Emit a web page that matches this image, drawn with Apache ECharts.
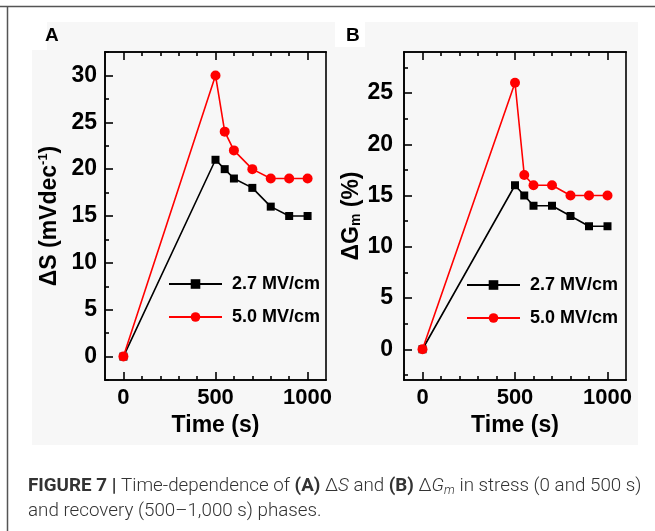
<!DOCTYPE html>
<html><head><meta charset="utf-8">
<script src="https://cdn.jsdelivr.net/npm/echarts@6/dist/echarts.min.js"></script>
<style>html,body{margin:0;padding:0;background:#fff}#c{width:655px;height:531px}</style>
</head><body><div id="c"></div>
<script>
// ---- data ----
const time = [0, 500, 550, 600, 700, 800, 900, 1000];
const dS_27 = [0, 21, 20, 19, 18, 16, 15, 15];
const dS_50 = [0, 30, 24, 22, 20, 19, 19, 19];
const dG_27 = [0, 16, 15, 14, 14, 13, 12, 12];
const dG_50 = [0, 26, 17, 16, 16, 15, 15, 15];
const seriesNames = ['2.7 MV/cm', '5.0 MV/cm'];
const xMajor = [0, 500, 1000];
const xMinor = [100, 200, 300, 400, 600, 700, 800, 900];
const yMajorA = [0, 5, 10, 15, 20, 25, 30];
const yMinorA = [-2.5, 2.5, 7.5, 12.5, 17.5, 22.5, 27.5, 32.5];
const yMajorB = [0, 5, 10, 15, 20, 25];
const yMinorB = [-2.5, 2.5, 7.5, 12.5, 17.5, 22.5, 27.5];

const FF = '"Liberation Sans", Arial, sans-serif';
const CF = 'Roboto, sans-serif';
const CS = 18.8;
const lineStyle = { color: '#000', width: 1.6 };
const plain = v => String(v);

function xAx(grid, pos, ticks, len, labels, name) {
  return {
    type: 'value', gridIndex: grid, position: pos, min: -100, max: 1100,
    splitLine: { show: false },
    axisLine: { show: true, onZero: false, lineStyle },
    axisTick: { show: true, inside: true, length: len, customValues: ticks, lineStyle },
    axisLabel: labels ? { show: true, customValues: ticks, formatter: plain, margin: 7, color: '#000', fontSize: 22, fontWeight: 'bold', fontFamily: FF } : { show: false },
    name: name || '', nameLocation: 'middle', nameGap: 33,
    nameTextStyle: { color: '#000', fontSize: 23, fontWeight: 'bold', fontFamily: FF }
  };
}
function yAx(grid, pos, min, max, ticks, len, labels, name, gap, margin) {
  return {
    type: 'value', gridIndex: grid, position: pos, min, max,
    splitLine: { show: false },
    axisLine: { show: true, onZero: false, lineStyle },
    axisTick: { show: ticks.length > 0, inside: true, length: len, customValues: ticks.length ? ticks : undefined, lineStyle },
    axisLabel: labels ? { show: true, customValues: ticks, formatter: plain, margin: margin, color: '#000', fontSize: 23, fontWeight: 'bold', fontFamily: FF } : { show: false },
    name: name || '', nameLocation: 'middle', nameGap: gap || 0, nameRotate: 90,
    nameTextStyle: {
      color: '#000', fontSize: 23, fontWeight: 'bold', fontFamily: FF,
      rich: {
        sup: { fontSize: 13, fontWeight: 'bold', fontFamily: FF, color: '#000', verticalAlign: 'top', padding: [0, 0, 12, 0] },
        sub: { fontSize: 14, fontWeight: 'bold', fontFamily: FF, color: '#000', padding: [10, 0, 0, 0] }
      }
    }
  };
}

const xAxes = [
  xAx(0, 'bottom', xMajor, 8, true, 'Time (s)'),
  xAx(0, 'bottom', xMinor, 4, false),
  xAx(0, 'top', xMajor, 8, false),
  xAx(0, 'top', xMinor, 4, false),
  xAx(1, 'bottom', xMajor, 8, true, 'Time (s)'),
  xAx(1, 'bottom', xMinor, 4, false),
  xAx(1, 'top', xMajor, 8, false),
  xAx(1, 'top', xMinor, 4, false)
];
const yAxes = [
  yAx(0, 'left', -2.5, 32.5, yMajorA, 8, true, 'ΔS (mVdec{sup|-1})', 43, 8),
  yAx(0, 'left', -2.5, 32.5, yMinorA, 4, false),
  yAx(0, 'right', -2.5, 32.5, [], 0, false),
  yAx(1, 'left', -3, 29, yMajorB, 8, true, 'ΔG{sub|m} (%)', 33, 11),
  yAx(1, 'left', -3, 29, yMinorB, 4, false),
  yAx(1, 'right', -3, 29, [], 0, false)
];

function pairs(xs, ys) { return xs.map((x, i) => [x, ys[i]]); }
function ser(name, data, xi, yi, color, symbol, size) {
  return {
    type: 'line', name, data, xAxisIndex: xi, yAxisIndex: yi,
    symbol, symbolSize: size, showAllSymbol: true,
    lineStyle: { color, width: 1.6 }, itemStyle: { color },
    animation: false
  };
}
const series = [
  ser(seriesNames[0], pairs(time, dS_27), 0, 0, '#000', 'rect', 8),
  ser(seriesNames[1], pairs(time, dS_50), 0, 0, '#ff0000', 'circle', 10),
  ser(seriesNames[0], pairs(time, dG_27), 4, 3, '#000', 'rect', 8),
  ser(seriesNames[1], pairs(time, dG_50), 4, 3, '#ff0000', 'circle', 10)
];

const legendBase = {
  orient: 'vertical', itemWidth: 53, itemHeight: 12, itemGap: 13,
  textStyle: { color: '#000', fontSize: 18, fontWeight: 'bold', fontFamily: FF, padding: [0, 0, 0, 5], lineHeight: 20 },
  selectedMode: false, data: seriesNames
};

const chart = echarts.init(document.getElementById('c'), null, { renderer: 'canvas' });
chart.setOption({
  animation: false,
  backgroundColor: '#fff',
  grid: [
    { left: 105, top: 52, width: 221, height: 328, containLabel: false },
    { left: 404, top: 52, width: 222, height: 328, containLabel: false }
  ],
  xAxis: xAxes,
  yAxis: yAxes,
  legend: [
    Object.assign({}, legendBase, { left: 163, top: 269 }),
    Object.assign({}, legendBase, { left: 461, top: 270 })
  ],
  series,
  graphic: [
    { type: 'rect', z: -10, silent: true, shape: { x: 32, y: 22, width: 606, height: 423 }, style: { fill: '#f7f7f7' } },
    { type: 'rect', z: -9, silent: true, shape: { x: 32, y: 22, width: 15, height: 28 }, style: { fill: '#fff' } },
    { type: 'rect', z: -9, silent: true, shape: { x: 335, y: 22, width: 30, height: 25 }, style: { fill: '#fff' } },
    { type: 'line', silent: true, shape: { x1: 0, y1: 6.5, x2: 655, y2: 6.5 }, style: { stroke: '#555', lineWidth: 1.5 } },
    { type: 'line', silent: true, shape: { x1: 7.5, y1: 6, x2: 7.5, y2: 531 }, style: { stroke: '#555', lineWidth: 1.5 } },
    { type: 'text', left: 45, top: 26, style: { text: 'A', fontSize: 19, fontWeight: 'bold', fontFamily: FF, fill: '#000' } },
    { type: 'text', left: 346, top: 26, style: { text: 'B', fontSize: 19, fontWeight: 'bold', fontFamily: FF, fill: '#000' } },
    { type: 'text', left: 28, top: 477, style: {
        text: '{b|FIGURE 7 |} Time-dependence of {b|(A)} Δ{i|S} and {b|(B)} Δ{i|G}{s|m} in stress (0 and 500 s)',
        fontSize: CS, fontFamily: CF, fontWeight: 300, fill: '#333',
        rich: {
          b: { fontSize: CS, fontWeight: 'bold', fontFamily: CF, fill: '#333' },
          i: { fontSize: CS, fontStyle: 'italic', fontWeight: 300, fontFamily: CF, fill: '#333' },
          s: { fontSize: 12.5, fontStyle: 'italic', fontWeight: 300, fontFamily: CF, fill: '#333', padding: [9, 0, 0, 0] }
        }
      } },
    { type: 'text', left: 28, top: 502, style: {
        text: 'and recovery (500–1,000 s) phases.',
        fontSize: CS, fontFamily: CF, fontWeight: 300, fill: '#333'
      } }
  ]
});
</script></body></html>
